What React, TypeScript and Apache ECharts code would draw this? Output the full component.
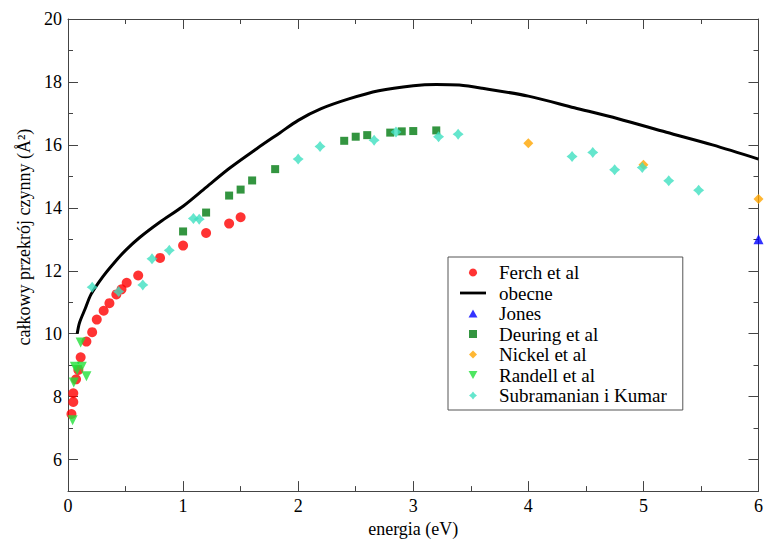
import React, { useEffect, useRef } from "react";
import * as echarts from "echarts";

const FONT = "Liberation Serif";

const ferchData: [number, number][] = [
  [0.03, 7.45], [0.046, 7.83], [0.046, 8.11], [0.07, 8.55], [0.09, 8.85], [0.11, 9.25],
  [0.16, 9.75], [0.21, 10.05], [0.25, 10.45], [0.31, 10.73], [0.36, 10.97], [0.42, 11.25],
  [0.465, 11.41], [0.51, 11.62], [0.61, 11.85], [0.8, 12.41], [1.0, 12.8], [1.2, 13.2],
  [1.4, 13.5], [1.5, 13.7],
];

const obecneX = [0.08, 0.1, 0.15, 0.2, 0.3, 0.4, 0.5, 0.62, 0.8, 1.0, 1.2, 1.4, 1.64, 1.84, 2.0, 2.2, 2.44, 2.7, 3.0, 3.2, 3.4, 3.6, 4.0, 4.4, 4.78, 5.2, 5.6, 6.0];
const obecneY = [10.0, 10.35, 10.8, 11.25, 11.8, 12.25, 12.65, 13.05, 13.55, 14.05, 14.65, 15.25, 15.88, 16.38, 16.78, 17.15, 17.46, 17.72, 17.88, 17.92, 17.9, 17.8, 17.55, 17.18, 16.83, 16.4, 16.0, 15.55];

const jonesData: [number, number][] = [[6.0, 13.0]];

const deuringData: [number, number][] = [
  [1.0, 13.25], [1.2, 13.85], [1.4, 14.39], [1.5, 14.58], [1.6, 14.87], [1.8, 15.23],
  [2.4, 16.13], [2.5, 16.26], [2.6, 16.31], [2.8, 16.39], [2.9, 16.43], [3.0, 16.44], [3.2, 16.46],
];

const nickelData: [number, number][] = [[4.0, 16.05], [5.0, 15.37], [6.0, 14.28]];

const randellData: [number, number][] = [
  [0.04, 7.25], [0.05, 8.45], [0.06, 8.95], [0.08, 8.85], [0.12, 8.95], [0.16, 8.65], [0.11, 9.72],
];

const subramanianData: [number, number][] = [
  [0.21, 11.48], [0.44, 11.34], [0.65, 11.55], [0.73, 12.38], [0.88, 12.65], [1.09, 13.66],
  [1.14, 13.64], [2.0, 15.55], [2.19, 15.95], [2.66, 16.15], [2.85, 16.41], [3.22, 16.26],
  [3.39, 16.34], [4.38, 15.63], [4.56, 15.76], [4.75, 15.21], [4.99, 15.28], [5.22, 14.86], [5.48, 14.56],
];

const xTicks = [0, 1, 2, 3, 4, 5, 6];
const yMajorTicks = [6, 8, 10, 12, 14, 16, 18, 20];

const CIRCLE = "path://M5,0 A5,5 0 1 1 4.99,0 Z";
const SQUARE = "path://M0,0 L8,0 L8,8 L0,8 Z";
const UP_TRI = "path://M5,0 L10,9 L0,9 Z";
const DOWN_TRI = "path://M0,0 L10,0 L5,9 Z";
const DIAMOND = "path://M5,0 L10,5 L5,10 L0,5 Z";
const STAR4 = "path://M5,0 L7.2,2.8 L10,5 L7.2,7.2 L5,10 L2.8,7.2 L0,5 L2.8,2.8 Z";
const LINE_ICON = "path://M0,0 L28,0 L28,3 L0,3 Z";

export default function App() {
  const ref = useRef<HTMLDivElement>(null);
  useEffect(() => {
    if (!ref.current) return;
    const chart = echarts.init(ref.current, null, { renderer: "svg" });
    const axisLineStyle = { color: "#444", width: 1 };
    const option: any = {
      animation: false,
      backgroundColor: "#fff",
      textStyle: { fontFamily: FONT },
      grid: { left: 68, right: 6, top: 19, bottom: 46, containLabel: false },
      legend: {
        orient: "vertical",
        left: 448,
        top: 257,
        padding: [6, 16, 5, 12],
        itemWidth: 26,
        itemHeight: 8,
        itemGap: 1.5,
        symbolKeepAspect: true,
        borderColor: "#555",
        borderWidth: 1,
        textStyle: { fontFamily: FONT, fontSize: 19, lineHeight: 19, color: "#000", padding: [0, 0, 0, 8] },
        data: [
          { name: "Ferch et al", icon: CIRCLE },
          { name: "obecne", icon: LINE_ICON },
          { name: "Jones", icon: UP_TRI },
          { name: "Deuring et al", icon: SQUARE },
          { name: "Nickel et al", icon: DIAMOND },
          { name: "Randell et al", icon: DOWN_TRI },
          { name: "Subramanian i Kumar", icon: STAR4 },
        ],
      },
      xAxis: [
        {
          type: "value", min: 0, max: 6, interval: 1, position: "bottom",
          name: "energia (eV)", nameLocation: "middle", nameGap: 24,
          nameTextStyle: { fontFamily: FONT, fontSize: 18, color: "#000" },
          axisLine: { lineStyle: axisLineStyle },
          axisTick: { inside: true, length: 10, lineStyle: axisLineStyle },
          minorTick: { show: true, splitNumber: 2, length: 5, lineStyle: axisLineStyle },
          axisLabel: { fontFamily: FONT, fontSize: 18, color: "#000", margin: 6, customValues: xTicks },
          splitLine: { show: false },
        },
        {
          type: "value", min: 0, max: 6, interval: 1, position: "top",
          axisLine: { lineStyle: axisLineStyle },
          axisTick: { inside: true, length: 10, lineStyle: axisLineStyle },
          minorTick: { show: true, splitNumber: 2, length: 5, lineStyle: axisLineStyle },
          axisLabel: { show: false },
          splitLine: { show: false },
        },
      ],
      yAxis: [
        {
          type: "value", min: 5, max: 20, interval: 1, position: "left",
          name: "całkowy przekrój czynny (Å²)", nameLocation: "middle", nameGap: 27,
          nameTextStyle: { fontFamily: FONT, fontSize: 18, color: "#000", padding: [0, 0, 0, 36] },
          axisLine: { lineStyle: axisLineStyle },
          axisTick: { inside: true, length: 10, lineStyle: axisLineStyle, customValues: yMajorTicks },
          axisLabel: { fontFamily: FONT, fontSize: 18, color: "#000", margin: 6, customValues: yMajorTicks },
          splitLine: { show: false },
        },
        {
          type: "value", min: 5, max: 20, interval: 1, position: "left",
          axisLine: { show: false },
          axisTick: { inside: true, length: 5, lineStyle: axisLineStyle },
          axisLabel: { show: false },
          splitLine: { show: false },
        },
        {
          type: "value", min: 5, max: 20, interval: 1, position: "right",
          axisLine: { show: true, lineStyle: axisLineStyle },
          axisTick: { inside: true, length: 5, lineStyle: axisLineStyle },
          axisLabel: { show: false },
          splitLine: { show: false },
        },
        {
          type: "value", min: 5, max: 20, interval: 1, position: "right",
          axisLine: { show: false },
          axisTick: { inside: true, length: 10, lineStyle: axisLineStyle, customValues: yMajorTicks },
          axisLabel: { show: false },
          splitLine: { show: false },
        },
      ],
      series: [
        {
          name: "Ferch et al", type: "scatter", symbol: "circle", symbolSize: 10,
          itemStyle: { color: "#ff0000" }, data: ferchData, z: 3,
        },
        {
          name: "obecne", type: "line", showSymbol: false, smooth: 0.3,
          lineStyle: { color: "#000", width: 3 }, itemStyle: { color: "#000" },
          data: obecneX.map((x, i) => [x, obecneY[i]]), z: 2,
        },
        {
          name: "Jones", type: "scatter", symbol: UP_TRI, symbolSize: 10,
          itemStyle: { color: "#0000ff" }, data: jonesData, z: 3,
        },
        {
          name: "Deuring et al", type: "scatter", symbol: SQUARE, symbolSize: 8,
          itemStyle: { color: "#007a10" }, data: deuringData, z: 3,
        },
        {
          name: "Nickel et al", type: "scatter", symbol: DIAMOND, symbolSize: 10,
          itemStyle: { color: "#ffa500" }, data: nickelData, z: 3,
        },
        {
          name: "Randell et al", type: "scatter", symbol: DOWN_TRI, symbolSize: 10,
          itemStyle: { color: "#22e03a" }, data: randellData, z: 4,
        },
        {
          name: "Subramanian i Kumar", type: "scatter", symbol: STAR4, symbolSize: 11,
          itemStyle: { color: "#3ee0c0" }, data: subramanianData, z: 4,
        },
      ],
    };
    chart.setOption(option);
    return () => chart.dispose();
  }, []);
  return (
    <div
      ref={ref}
      style={{ position: "fixed", left: 0, top: 0, width: 766, height: 543, background: "#fff" }}
    />
  );
}
